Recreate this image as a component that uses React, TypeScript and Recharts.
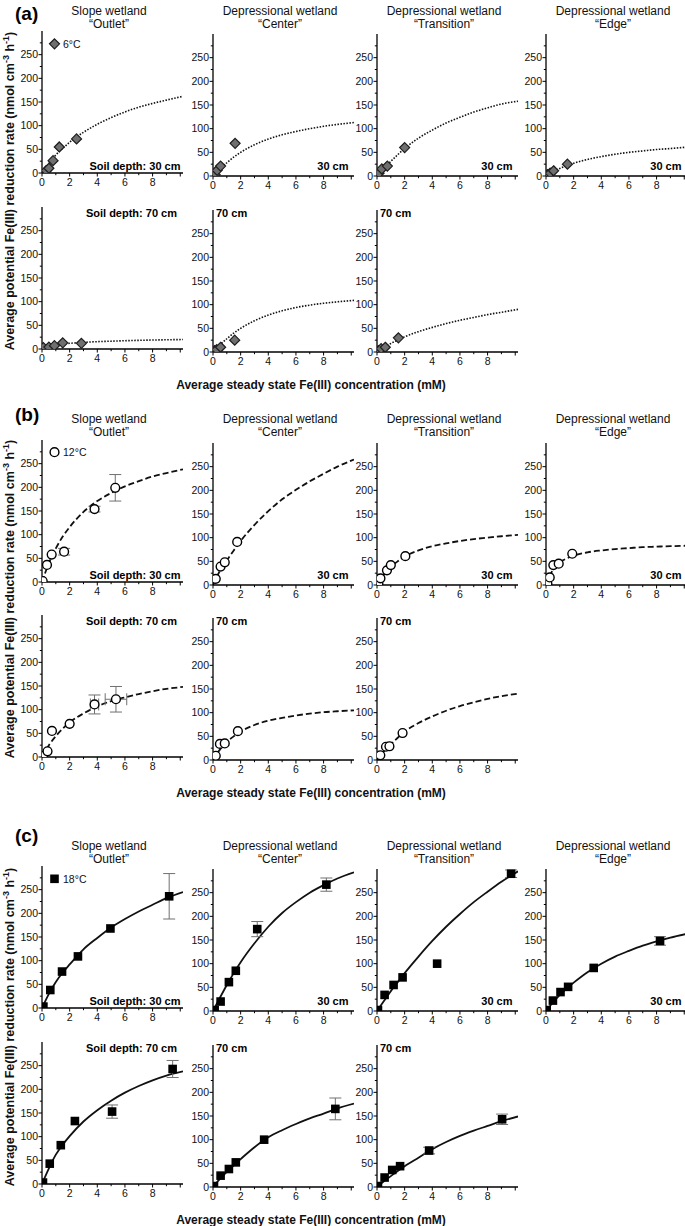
import React from "react";
import { ComposedChart, Scatter, Line, XAxis, YAxis, ErrorBar } from "recharts";

const FONT = '"Liberation Sans", Arial, Helvetica, sans-serif';

const fitX = [0, 0.5, 1, 1.5, 2, 3, 4, 5, 6, 7, 8, 9, 10.2];

const xTicks = [0, 1, 2, 3, 4, 5, 6, 7, 8, 9, 10];
const yTicks = [0, 25, 50, 75, 100, 125, 150, 175, 200, 225, 250, 275];

const colTitles = ["Slope wetland", "Depressional wetland", "Depressional wetland", "Depressional wetland"];
const colSites = ["\u201COutlet\u201D", "\u201CCenter\u201D", "\u201CTransition\u201D", "\u201CEdge\u201D"];

// points: [x, y, yErr?, xErr?]
type Pt = number[];

// (a) 6°C
const aOutlet30: Pt[] = [[0.3, 5], [0.5, 10], [0.8, 26], [1.25, 55], [2.5, 72]];
const aOutlet30Fit = [0, 20, 38, 52, 65, 86, 103, 117, 129, 139, 147, 154, 162];
const aCenter30: Pt[] = [[0.15, 3], [0.3, 12], [0.55, 21], [1.6, 69]];
const aCenter30Fit = [0, 15, 28, 40, 50, 66, 78, 87, 94, 100, 105, 109, 113];
const aTrans30: Pt[] = [[0.15, 6], [0.35, 15], [0.75, 21], [2.0, 60]];
const aTrans30Fit = [0, 16, 31, 45, 58, 80, 97, 112, 124, 135, 144, 152, 158];
const aEdge30: Pt[] = [[0.1, 3], [0.3, 6], [0.55, 11], [1.55, 25]];
const aEdge30Fit = [0, 9, 16, 22, 27, 35, 41, 46, 50, 53, 56, 58, 61];
const aOutlet70: Pt[] = [[0.1, 3], [0.5, 4], [0.9, 7], [1.5, 13], [2.85, 12]];
const aOutlet70Fit = [0, 5, 8, 10.5, 12, 14, 15.5, 16.5, 17.5, 18.3, 19, 19.5, 20];
const aCenter70: Pt[] = [[0.12, 3], [0.27, 5], [0.55, 10], [1.57, 25]];
const aCenter70Fit = [0, 15, 28, 40, 50, 66, 78, 87, 94, 99, 103, 106, 109];
const aTrans70: Pt[] = [[0.1, 3], [0.3, 7], [0.6, 10], [1.55, 30]];
const aTrans70Fit = [0, 9, 18, 25, 32, 43, 52, 60, 67, 73, 79, 84, 90];

// (b) 12°C
const bOutlet30: Pt[] = [[0.05, 2], [0.36, 36], [0.7, 58], [1.6, 64, 7], [3.8, 154, 6], [5.3, 199, 28]];
const bOutlet30Fit = [0, 40, 71, 96, 116, 148, 171, 188, 202, 213, 223, 230, 238];
const bCenter30: Pt[] = [[0.2, 13], [0.55, 39], [0.85, 48], [1.75, 91]];
const bCenter30Fit = [0, 30, 52, 73, 93, 127, 156, 181, 201, 219, 235, 250, 265];
const bTrans30: Pt[] = [[0.1, 3], [0.25, 14], [0.72, 31], [1.0, 42], [2.05, 61]];
const bTrans30Fit = [0, 22, 38, 50, 60, 73, 82, 88, 93, 97, 100, 103, 106];
const bEdge30: Pt[] = [[0.1, 3], [0.27, 16], [0.53, 42], [0.92, 45], [1.9, 66]];
const bEdge30Fit = [0, 32, 48, 56, 62, 69, 73, 76, 78, 80, 81, 82, 83];
const bOutlet70: Pt[] = [[0.07, 2], [0.4, 12], [0.72, 55], [2.0, 70], [3.8, 111, 20, 0.3], [5.35, 122, 27, 0.78]];
const bOutlet70Fit = [0, 25, 44, 60, 73, 92, 107, 118, 126, 133, 139, 144, 148];
const bCenter70: Pt[] = [[0.2, 9], [0.5, 34], [0.85, 35], [1.8, 61]];
const bCenter70Fit = [0, 22, 38, 50, 60, 74, 83, 89, 94, 98, 101, 103, 105];
const bTrans70: Pt[] = [[0.24, 10], [0.65, 28], [0.9, 29], [1.85, 57]];
const bTrans70Fit = [0, 18, 33, 47, 60, 78, 92, 104, 114, 122, 129, 135, 140];

// (c) 18°C
const cOutlet30: Pt[] = [[0.1, 3], [0.6, 38], [1.45, 77], [2.6, 109], [4.95, 168], [9.2, 236, 48]];
const cOutlet30Fit = [0, 30, 55, 75, 92, 124, 148, 170, 188, 204, 218, 232, 245];
const cCenter30: Pt[] = [[0.12, 2], [0.55, 20], [1.15, 61], [1.65, 85], [3.2, 173, 16], [8.2, 267, 14]];
const cCenter30Fit = [0, 28, 55, 80, 103, 143, 178, 207, 230, 250, 266, 280, 293];
const cTrans30: Pt[] = [[0.07, 2], [0.55, 34], [1.2, 55], [1.85, 71], [4.35, 100], [9.7, 290, 8]];
const cTrans30Fit = [0, 21, 42, 61, 80, 115, 148, 178, 205, 230, 252, 273, 295];
const cEdge30: Pt[] = [[0.05, 2], [0.5, 22], [1.05, 40], [1.6, 51], [3.45, 91], [8.25, 148, 9]];
const cEdge30Fit = [0, 18, 34, 48, 60, 82, 100, 115, 127, 138, 147, 155, 163];
const cOutlet70: Pt[] = [[0.07, 3], [0.56, 43], [1.36, 82], [2.38, 133], [5.07, 153, 14], [9.45, 243, 18]];
const cOutlet70Fit = [0, 33, 62, 83, 101, 132, 156, 176, 193, 207, 219, 229, 238];
const cCenter70: Pt[] = [[0.07, 2], [0.55, 24], [1.15, 38], [1.65, 52], [3.7, 100], [8.85, 165, 23]];
const cCenter70Fit = [0, 17, 32, 46, 59, 84, 105, 120, 133, 145, 155, 166, 176];
const cTrans70: Pt[] = [[0.07, 2], [0.55, 20], [1.1, 36], [1.67, 44], [3.77, 77, 7], [9.05, 143, 11]];
const cTrans70Fit = [0, 12, 23, 34, 44, 62, 80, 95, 108, 119, 129, 139, 149];

// layout
const COL_X = [42, 213, 377, 546];
const COL_DY = [0, 3, 3, 3];
const PLOT_W = 141;
const PLOT_H = 142;
const YW = 30;
const MT = 6;
const MR = 4;
const XH = 18;

type Marker = "diamond" | "circle" | "square";
type LineStyle = "dotted" | "dashed" | "solid";

const sections = [
  {
    label: "(a)", labelY: 20, temp: "6\u00B0C", marker: "diamond" as Marker, line: "dotted" as LineStyle,
    zeros: [173.3, 349.3], yTitle: 191, xTitleY: 389,
    row1: [[aOutlet30, aOutlet30Fit], [aCenter30, aCenter30Fit], [aTrans30, aTrans30Fit], [aEdge30, aEdge30Fit]],
    row2: [[aOutlet70, aOutlet70Fit], [aCenter70, aCenter70Fit], [aTrans70, aTrans70Fit]],
  },
  {
    label: "(b)", labelY: 421, temp: "12\u00B0C", marker: "circle" as Marker, line: "dashed" as LineStyle,
    zeros: [581.7, 757.3], yTitle: 599, xTitleY: 797,
    row1: [[bOutlet30, bOutlet30Fit], [bCenter30, bCenter30Fit], [bTrans30, bTrans30Fit], [bEdge30, bEdge30Fit]],
    row2: [[bOutlet70, bOutlet70Fit], [bCenter70, bCenter70Fit], [bTrans70, bTrans70Fit]],
  },
  {
    label: "(c)", labelY: 842, temp: "18\u00B0C", marker: "square" as Marker, line: "solid" as LineStyle,
    zeros: [1008.3, 1184.3], yTitle: 1027, xTitleY: 1224,
    row1: [[cOutlet30, cOutlet30Fit], [cCenter30, cCenter30Fit], [cTrans30, cTrans30Fit], [cEdge30, cEdge30Fit]],
    row2: [[cOutlet70, cOutlet70Fit], [cCenter70, cCenter70Fit], [cTrans70, cTrans70Fit]],
  },
];

function XTick(props: any) {
  const { x, y, payload } = props;
  const v = payload.value;
  const major = v % 2 === 0;
  return (
    <g>
      <line x1={x} x2={x} y1={y} y2={y + (major ? 3.5 : 2.2)} stroke="#000" strokeWidth={1} />
      {major && v < 10 && (
        <text x={x} y={y + 13} textAnchor="middle" fontSize={10.5} fontFamily={FONT} fill="#111">
          {v}
        </text>
      )}
    </g>
  );
}

function YTick(props: any) {
  const { x, y, payload } = props;
  const v = payload.value;
  const major = v % 50 === 0;
  return (
    <g>
      <line x1={x} x2={x - (major ? 3.5 : 2.2)} y1={y} y2={y} stroke="#000" strokeWidth={1} />
      {major && (
        <text x={x - 4} y={y} dy="0.35em" textAnchor="end" fontSize={10.5} fontFamily={FONT} fill="#111">
          {v}
        </text>
      )}
    </g>
  );
}

function MarkerShape({ cx, cy, kind }: { cx: number; cy: number; kind: Marker }) {
  if (kind === "diamond") {
    const r = 5;
    return (
      <polygon
        points={`${cx},${cy - r} ${cx + r},${cy} ${cx},${cy + r} ${cx - r},${cy}`}
        fill="#6f6f6f"
        stroke="#1c1c1c"
        strokeWidth={1.2}
      />
    );
  }
  if (kind === "circle") {
    return <circle cx={cx} cy={cy} r={4.4} fill="#fff" stroke="#000" strokeWidth={1.4} />;
  }
  return <rect x={cx - 4.3} y={cy - 4.3} width={8.6} height={8.6} fill="#000" />;
}

function Panel({ left, top, pts, fit, marker, line }: { left: number; top: number; pts: Pt[]; fit: number[]; marker: Marker; line: LineStyle }) {
  const points = pts.map((p) => ({ x: p[0], y: p[1], e: p[2] ?? 0, ex: p[3] ?? 0 }));
  const curve = fitX.map((x, i) => ({ x, y: fit[i] }));
  const hasEx = pts.some((p) => p[3] !== undefined);
  const dash = line === "dotted" ? "1.5 1.5" : line === "dashed" ? "6 3" : undefined;
  return (
    <div style={{ position: "absolute", left: left - YW, top: top - MT }}>
      <ComposedChart width={YW + PLOT_W + MR} height={MT + PLOT_H + XH} margin={{ top: MT, right: MR, bottom: 0, left: 0 }}>
        <XAxis
          type="number"
          dataKey="x"
          domain={[0, 10.2]}
          ticks={xTicks}
          interval={0}
          tickLine={false}
          tickSize={0}
          tickMargin={0}
          tick={<XTick />}
          axisLine={{ stroke: "#000", strokeWidth: 1.3 }}
          height={XH}
          allowDataOverflow
        />
        <YAxis
          type="number"
          dataKey="y"
          domain={[0, 300]}
          ticks={yTicks}
          interval={0}
          tickLine={false}
          tickSize={0}
          tickMargin={0}
          tick={<YTick />}
          axisLine={{ stroke: "#000", strokeWidth: 1.3 }}
          width={YW}
          allowDataOverflow
        />
        <Line
          data={curve}
          dataKey="y"
          type="monotone"
          dot={false}
          activeDot={false}
          stroke="#111"
          strokeWidth={line === "dotted" ? 1.6 : 1.8}
          strokeDasharray={dash}
          isAnimationActive={false}
        />
        <Scatter
          data={points}
          dataKey="y"
          isAnimationActive={false}
          shape={(p: any) => <MarkerShape cx={p.cx} cy={p.cy} kind={marker} />}
        >
          <ErrorBar dataKey="e" direction="y" width={6} stroke="#707070" strokeWidth={1} />
          {hasEx && <ErrorBar dataKey="ex" direction="x" width={6} stroke="#707070" strokeWidth={1} />}
        </Scatter>
      </ComposedChart>
    </div>
  );
}

export default function App() {
  const panels: React.ReactNode[] = [];
  const overlay: React.ReactNode[] = [];

  sections.forEach((s, si) => {
    [s.row1, s.row2].forEach((row, ri) => {
      row.forEach(([pts, fit], ci) => {
        const zero = s.zeros[ri] + COL_DY[ci];
        panels.push(
          <Panel
            key={`p${si}${ri}${ci}`}
            left={COL_X[ci]}
            top={zero - PLOT_H}
            pts={pts as Pt[]}
            fit={fit as number[]}
            marker={s.marker}
            line={s.line}
          />
        );
      });
    });

    const top1 = s.zeros[0] - PLOT_H;
    const top2 = s.zeros[1] - PLOT_H;

    overlay.push(
      <text key={`l${si}`} x={15} y={s.labelY} fontSize={19} fontWeight="bold" fontFamily={FONT} fill="#000">
        {s.label}
      </text>
    );
    COL_X.forEach((cx, ci) => {
      overlay.push(
        <text key={`t${si}${ci}`} x={cx + 67} y={top1 - 16.5} textAnchor="middle" fontSize={12} fontFamily={FONT} fill="#111">
          {colTitles[ci]}
        </text>,
        <text key={`s${si}${ci}`} x={cx + 67} y={top1 - 3.3} textAnchor="middle" fontSize={12} fontFamily={FONT} fill="#111">
          {colSites[ci]}
        </text>,
        <text
          key={`d${si}${ci}`}
          x={cx + PLOT_W - (ci === 0 ? 2.5 : 5.5)}
          y={s.zeros[0] - 3}
          textAnchor="end"
          fontSize={11}
          fontWeight="bold"
          fontFamily={FONT}
          fill="#000"
        >
          {ci === 0 ? "Soil depth: 30 cm" : "30 cm"}
        </text>
      );
      if (ci < 3) {
        overlay.push(
          <text
            key={`e${si}${ci}`}
            x={ci === 0 ? cx + PLOT_W - 6 : cx + 3}
            y={top2 + 10}
            textAnchor={ci === 0 ? "end" : "start"}
            fontSize={11}
            fontWeight="bold"
            fontFamily={FONT}
            fill="#000"
          >
            {ci === 0 ? "Soil depth: 70 cm" : "70 cm"}
          </text>
        );
      }
    });
    overlay.push(
      <MarkerShape key={`m${si}`} cx={COL_X[0] + 12.5} cy={top1 + 12.5} kind={s.marker} />,
      <text key={`mt${si}`} x={COL_X[0] + 21} y={top1 + 16.3} fontSize={10.5} fontFamily={FONT} fill="#111">
        {s.temp}
      </text>,
      <text
        key={`yt${si}`}
        transform="rotate(-90)"
        x={-s.yTitle}
        y={14}
        textAnchor="middle"
        fontSize={12.5}
        fontWeight="bold"
        fontFamily={FONT}
        fill="#111"
      >
        <tspan>Average potential Fe(III) reduction rate (nmol cm</tspan>
        <tspan dy={-5} fontSize={9}>-3</tspan>
        <tspan dy={5}> h</tspan>
        <tspan dy={-5} fontSize={9}>-1</tspan>
        <tspan dy={5}>)</tspan>
      </text>,
      <text key={`xt${si}`} x={311} y={s.xTitleY} textAnchor="middle" fontSize={12} fontWeight="bold" fontFamily={FONT} fill="#111">
        Average steady state Fe(III) concentration (mM)
      </text>
    );
  });

  return (
    <div style={{ position: "absolute", left: 0, top: 0, width: 685, height: 1226, overflow: "hidden", background: "#fff" }}>
      {panels}
      <svg width={685} height={1226} style={{ position: "absolute", left: 0, top: 0, pointerEvents: "none" }}>
        {overlay}
      </svg>
    </div>
  );
}
